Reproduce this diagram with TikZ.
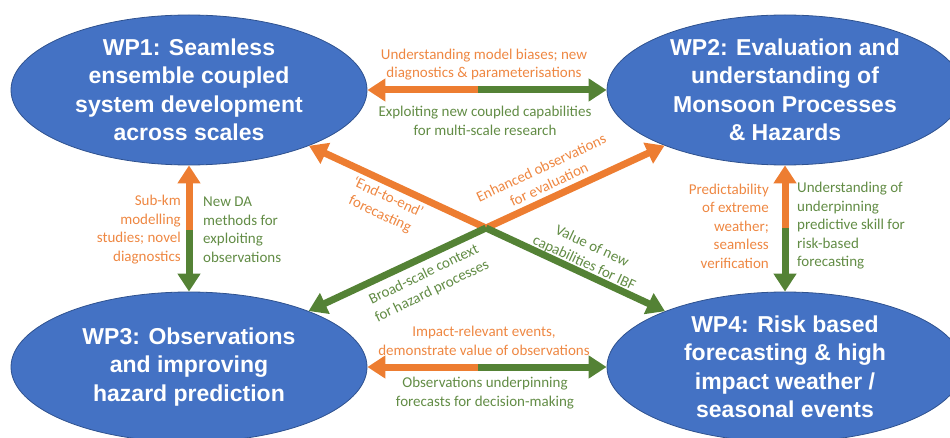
\documentclass[tikz,border=0pt]{standalone}
\usepackage{fontspec}
\setmainfont{Carlito}
\newfontfamily\wpfont{Liberation Sans}
\usetikzlibrary{shapes.geometric,arrows.meta}
\definecolor{wpblue}{HTML}{4472C4}
\definecolor{wpedge}{HTML}{2F528F}
\definecolor{aorange}{HTML}{ED7D31}
\definecolor{agreen}{HTML}{548235}
\begin{document}
\begin{tikzpicture}[x=1pt,y=1pt,
  wp/.style={ellipse, fill=wpblue, draw=wpedge, line width=0.8pt,
    minimum width=356pt, minimum height=150pt, inner sep=0pt,
    text=white, align=center,
    font=\wpfont\bfseries\fontsize{23}{28.5}\selectfont},
  oarr/.style={draw=aorange, line width=7pt, -{Triangle[width=22pt,length=18pt]}},
  garr/.style={draw=agreen, line width=7pt, -{Triangle[width=22pt,length=18pt]}},
  lbl/.style={font=\fontsize{15}{18.5}\selectfont, inner sep=0pt},
  olbl/.style={lbl, text=aorange!92!white},
  glbl/.style={lbl, text=agreen!92!white}]
\useasboundingbox (0,0) rectangle (950,437);

% work packages
\node[wp] (wp1) at (189,347) {WP1: Seamless\\ensemble coupled\\system development\\across scales};
\node[wp] (wp2) at (785,347) {WP2: Evaluation and\\understanding of\\Monsoon Processes\\\& Hazards};
\node[wp] (wp3) at (189,70) {WP3: Observations\\and improving\\hazard prediction};
\node[wp] (wp4) at (785,70) {WP4: Risk based\\forecasting \& high\\impact weather /\\seasonal events};

% split points
\coordinate (m12) at (478,347);
\coordinate (m34) at (478,70);
\coordinate (m13) at (189,207);
\coordinate (m24) at (785,209);
\coordinate (cx) at (486,209);

% arrows
\draw[oarr] (m12) -- (wp1);
\draw[garr] (m12) -- (wp2);
\draw[oarr] (m34) -- (wp3);
\draw[garr] (m34) -- (wp4);
\draw[oarr] (m13) -- (wp1);
\draw[garr] (m13) -- (wp3);
\draw[oarr] (m24) -- (wp2);
\draw[garr] (m24) -- (wp4);
\draw[oarr] (cx) -- (wp1);
\draw[oarr] (cx) -- (wp2);
\draw[garr] (cx) -- (wp3);
\draw[garr] (cx) -- (wp4);

% labels
\node[olbl, align=center] (l1) at (484,372.5) {Understanding model biases; new\\diagnostics \& parameterisations};
\node[glbl, align=center] (l2) at (485,316) {Exploiting new coupled capabilities\\for multi-scale research};
\node[olbl, align=center] (l3) at (484,96) {Impact-relevant events,\\demonstrate value of observations};
\node[glbl, align=center] (l4) at (485,44) {Observations underpinning\\forecasts for decision-making};

\node[olbl, align=right, anchor=east] (l5) at (181,207.5) {Sub-km\\modelling\\studies; novel\\diagnostics};
\node[glbl, align=left, anchor=west] (l6) at (203,207.5) {New DA\\methods for\\exploiting\\observations};
\node[olbl, align=right, anchor=east] (l7) at (769,211) {Predictability\\of extreme\\weather;\\seamless\\verification};
\node[glbl, align=left, anchor=west] (l8) at (797,211) {Understanding of\\underpinning\\predictive skill for\\risk-based\\forecasting};

\node[olbl, align=center, rotate=-25] (l9) at (384,231) {‘End-to-end’\\forecasting};
\node[olbl, align=center, rotate=25] (l10) at (545,261) {Enhanced observations\\for evaluation};
\node[glbl, align=center, rotate=26] (l11) at (428,154) {Broad-scale context\\for hazard processes};
\node[glbl, align=center, rotate=-25] (l12) at (588,182) {Value of new\\capabilities for IBF};
\end{tikzpicture}
\end{document}
